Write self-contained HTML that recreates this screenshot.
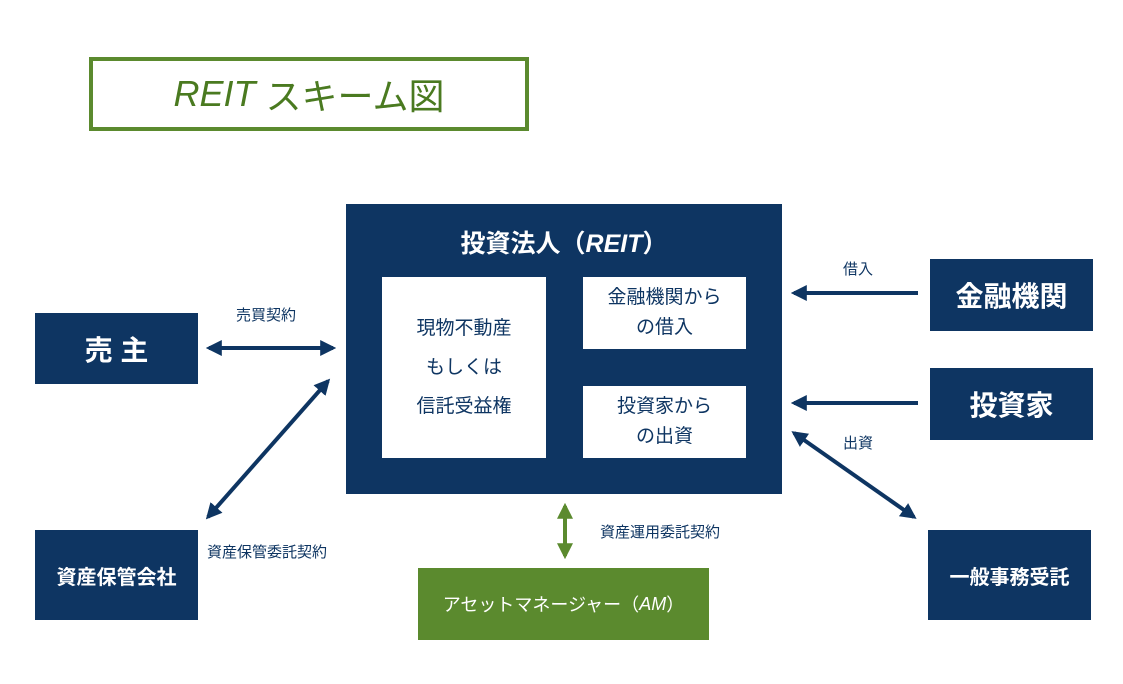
<!DOCTYPE html>
<html><head><meta charset="utf-8"><style>
body{margin:0;background:#fff;width:1123px;height:684px;overflow:hidden;position:relative;font-family:"Liberation Sans","Noto Sans CJK JP",sans-serif}
.b{position:absolute;box-sizing:border-box;display:flex;align-items:center;justify-content:center;text-align:center}
.n{background:#0e3562;color:#fff;font-weight:bold}
.w{background:#fff;color:#0e3562}
.l{position:absolute;color:#0e3562;font-size:15px;white-space:nowrap}
</style></head><body>
<div class="b" style="left:89px;top:57px;width:440px;height:74px;border:4px solid #5b8a2e;color:#4a7a20;font-size:36px"><i>REIT</i>&nbsp;スキーム図</div>
<div class="b n" style="left:346px;top:204px;width:436px;height:290px"></div>
<div class="l" style="left:346px;top:224px;width:436px;text-align:center;color:#fff;font-size:25px;font-weight:bold">投資法人（<i>REIT</i>）</div>
<div class="b w" style="left:382px;top:277px;width:164px;height:181px;font-size:19px;line-height:39px">現物不動産<br>もしくは<br>信託受益権</div>
<div class="b w" style="left:583px;top:277px;width:163px;height:72px;font-size:19px;line-height:30px">金融機関から<br>の借入</div>
<div class="b w" style="left:583px;top:386px;width:163px;height:72px;font-size:19px;line-height:30px">投資家から<br>の出資</div>
<div class="b n" style="left:35px;top:313px;width:163px;height:71px;font-size:28px">売 主</div>
<div class="b n" style="left:35px;top:530px;width:163px;height:90px;font-size:20px">資産保管会社</div>
<div class="b n" style="left:930px;top:259px;width:163px;height:72px;font-size:28px">金融機関</div>
<div class="b n" style="left:930px;top:368px;width:163px;height:72px;font-size:28px">投資家</div>
<div class="b n" style="left:928px;top:530px;width:163px;height:90px;font-size:20px">一般事務受託</div>
<div class="b" style="left:418px;top:568px;width:291px;height:72px;background:#5b8a2e;color:#fff;font-size:18px">アセットマネージャー（<i>AM</i>）</div>
<div class="l" style="left:236px;top:304px">売買契約</div>
<div class="l" style="left:207px;top:541px">資産保管委託契約</div>
<div class="l" style="left:843px;top:258px">借入</div>
<div class="l" style="left:843px;top:432px">出資</div>
<div class="l" style="left:600px;top:521px">資産運用委託契約</div>
<svg width="1123" height="684" style="position:absolute;left:0;top:0">
<defs>
<marker id="a" viewBox="0 0 10 10" refX="8" refY="5" markerWidth="4" markerHeight="4" orient="auto-start-reverse"><path d="M0,0L10,5L0,10z" fill="#0e3562"/></marker>
<marker id="g" viewBox="0 0 10 10" refX="8" refY="5" markerWidth="4" markerHeight="4" orient="auto-start-reverse"><path d="M0,0L10,5L0,10z" fill="#5b8a2e"/></marker>
</defs>
<g stroke="#0e3562" stroke-width="4" fill="none">
<line x1="209" y1="348" x2="333" y2="348" marker-start="url(#a)" marker-end="url(#a)"/>
<line x1="328" y1="381" x2="208" y2="517" marker-start="url(#a)" marker-end="url(#a)"/>
<line x1="918" y1="293" x2="794" y2="293" marker-end="url(#a)"/>
<line x1="918" y1="403" x2="794" y2="403" marker-end="url(#a)"/>
<line x1="794" y1="433" x2="914" y2="517" marker-start="url(#a)" marker-end="url(#a)"/>
</g>
<line x1="565" y1="506" x2="565" y2="556" stroke="#5b8a2e" stroke-width="4" marker-start="url(#g)" marker-end="url(#g)"/>
</svg>
</body></html>
